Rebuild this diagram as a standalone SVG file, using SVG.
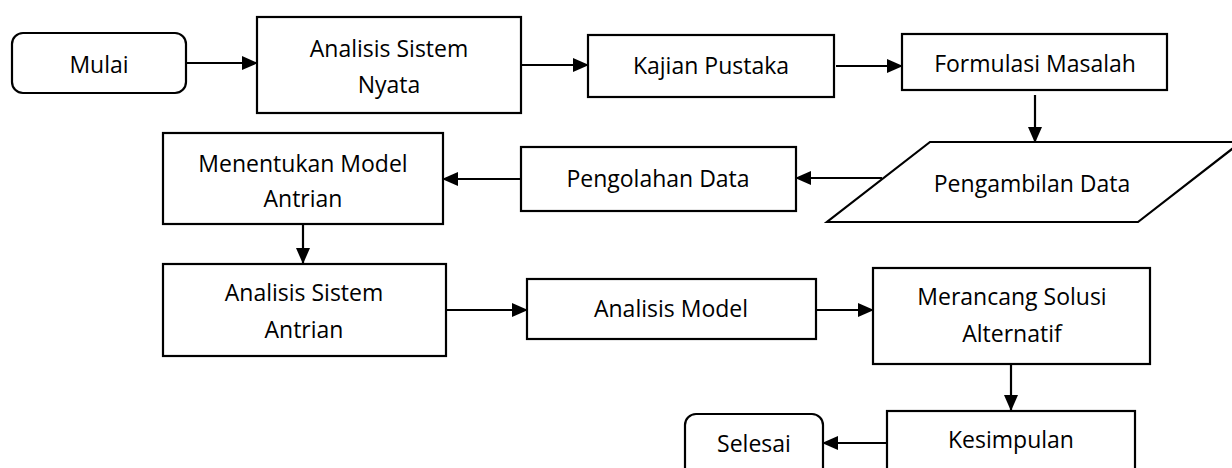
<svg xmlns="http://www.w3.org/2000/svg" width="1232" height="468" viewBox="0 0 1232 468">
<style>
.box{fill:#fff;stroke:#000;stroke-width:2.2}
.t{font-family:"Open Sans","Noto Sans",sans-serif;font-size:23px;fill:#000;text-anchor:middle}
.c{stroke:#000;stroke-width:2.2;fill:none;marker-end:url(#ah)}
</style>
<defs>
<marker id="ah" markerUnits="userSpaceOnUse" markerWidth="16" markerHeight="14" refX="15" refY="7" orient="auto">
<path d="M0,0 L16,7 L0,14 Z" fill="#000"/>
</marker>
</defs>
<rect width="1232" height="468" fill="#fff"/>
<g id="connectors">
<line class="c" x1="186" y1="63" x2="257" y2="63"/>
<line class="c" x1="521" y1="65" x2="588" y2="65"/>
<line class="c" x1="836" y1="66" x2="902" y2="66"/>
<line class="c" x1="1035" y1="95" x2="1035" y2="142"/>
<line class="c" x1="882" y1="178" x2="796" y2="178"/>
<line class="c" x1="521" y1="179" x2="443" y2="179"/>
<line class="c" x1="303" y1="224" x2="303" y2="263"/>
<line class="c" x1="446" y1="310" x2="527" y2="310"/>
<line class="c" x1="816" y1="310" x2="873" y2="310"/>
<line class="c" x1="1011" y1="364" x2="1011" y2="410"/>
<line class="c" x1="887" y1="443" x2="823" y2="443"/>
</g>
<g id="mulai">
<rect class="box" x="12" y="33" width="174" height="60" rx="11"/>
<text class="t" x="99" y="73">Mulai</text>
</g>
<g id="analisis-sistem-nyata">
<rect class="box" x="257" y="17" width="264" height="96"/>
<text class="t" x="389" y="57">Analisis Sistem</text>
<text class="t" x="389" y="93">Nyata</text>
</g>
<g id="kajian-pustaka">
<rect class="box" x="588" y="35" width="246" height="62"/>
<text class="t" x="711" y="74">Kajian Pustaka</text>
</g>
<g id="formulasi-masalah">
<rect class="box" x="902" y="34" width="265" height="56"/>
<text class="t" x="1035" y="72">Formulasi Masalah</text>
</g>
<g id="pengambilan-data">
<polygon class="box" points="930,142 1241,142 1138,222 827,222"/>
<text class="t" x="1032" y="192">Pengambilan Data</text>
</g>
<g id="pengolahan-data">
<rect class="box" x="521" y="147" width="275" height="64"/>
<text class="t" x="658" y="187">Pengolahan Data</text>
</g>
<g id="menentukan-model-antrian">
<rect class="box" x="163" y="133" width="280" height="91"/>
<text class="t" x="303" y="172">Menentukan Model</text>
<text class="t" x="303" y="207">Antrian</text>
</g>
<g id="analisis-sistem-antrian">
<rect class="box" x="163" y="264" width="283" height="92"/>
<text class="t" x="304" y="301">Analisis Sistem</text>
<text class="t" x="304" y="338">Antrian</text>
</g>
<g id="analisis-model">
<rect class="box" x="527" y="279" width="289" height="60"/>
<text class="t" x="671" y="317">Analisis Model</text>
</g>
<g id="merancang-solusi-alternatif">
<rect class="box" x="873" y="268" width="277" height="96"/>
<text class="t" x="1012" y="305">Merancang Solusi</text>
<text class="t" x="1012" y="342">Alternatif</text>
</g>
<g id="kesimpulan">
<rect class="box" x="887" y="411" width="248" height="70"/>
<text class="t" x="1011" y="448">Kesimpulan</text>
</g>
<g id="selesai">
<rect class="box" x="685" y="414" width="138" height="70" rx="11"/>
<text class="t" x="754" y="452">Selesai</text>
</g>
</svg>
